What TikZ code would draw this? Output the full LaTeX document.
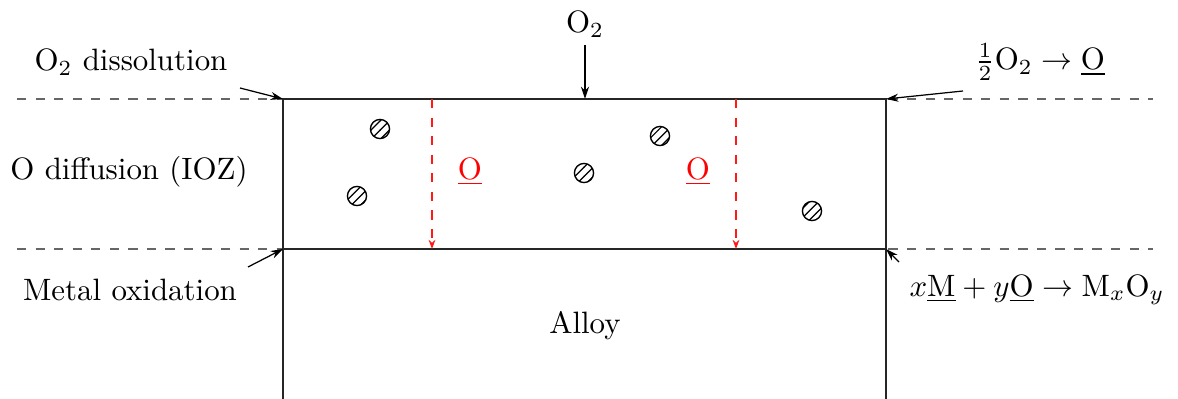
\documentclass[tikz,border=0pt]{standalone}
\usetikzlibrary{patterns,arrows.meta}
\begin{document}
\begin{tikzpicture}[x=0.3236pt,y=-0.3236pt,
  guide/.style={dashed, gray!80!black, line width=0.45pt},
  wall/.style={black!85, line width=0.4pt},
  ptr/.style={-{Stealth[length=4pt,width=2.6pt]}, line width=0.4pt},
  flux/.style={red!90!white, dashed, line width=0.35pt, -{Stealth[length=3pt,width=2.2pt]}},
  particle/.style={circle, draw, line width=0.45pt, minimum size=6.2pt, inner sep=0pt, pattern=north east lines},
  lbl/.style={inner sep=1pt}]
\useasboundingbox (0,0) rectangle (1178,399);

% guide lines
\coordinate (gtl) at (17,99);  \coordinate (gtr) at (1153,99);
\coordinate (gbl) at (17,249); \coordinate (gbr) at (1153,249);
\draw[guide] (gtl) -- (gtr);
\draw[guide] (gbl) -- (gbr);

% box corners
\coordinate (tl) at (283,99);  \coordinate (tr) at (886,99);
\coordinate (ml) at (283,249); \coordinate (mr) at (886,249);
\coordinate (bl) at (283,399); \coordinate (br) at (886,399);
\draw[wall] (bl) -- (tl) -- (tr) -- (br);
\draw[wall] (ml) -- (mr);

% red fluxes
\coordinate (f1t) at (432,99);  \coordinate (f1b) at (432,249);
\coordinate (f2t) at (736,99);  \coordinate (f2b) at (736,249);
\draw[flux] (f1t) -- (f1b);
\draw[flux] (f2t) -- (f2b);
\node[lbl, text=red] (o1) at (470,172) {$\underline{\mathrm{O}}$};
\node[lbl, text=red] (o2) at (698,172) {$\underline{\mathrm{O}}$};

% particles
\node[particle] (p1) at (380,129) {};
\node[particle] (p2) at (357,196) {};
\node[particle] (p3) at (584,173) {};
\node[particle] (p4) at (660,136) {};
\node[particle] (p5) at (812,211) {};

% labels
\node[lbl] (otwo) at (585,24) {O$_2$};
\coordinate (otwostart) at (585,45);
\coordinate (otwoend) at (585,99);
\draw[ptr] (otwostart) -- (otwoend);

\node[lbl] (diss) at (131,62) {O$_2$ dissolution};
\coordinate (dissstart) at (240,88);
\draw[ptr] (dissstart) -- (tl);

\node[lbl] (half) at (1040,62) {$\frac{1}{2}\mathrm{O}_2 \rightarrow \underline{\mathrm{O}}$};
\coordinate (halfstart) at (963,91);
\draw[ptr] (halfstart) -- (tr);

\node[lbl] (diff) at (129,172) {O diffusion (IOZ)};

\node[lbl] (metox) at (130,290) {Metal oxidation};
\coordinate (metoxstart) at (248,267);
\draw[ptr] (metoxstart) -- (ml);

\node[lbl] (react) at (1037,290) {$x\underline{\mathrm{M}} + y\underline{\mathrm{O}} \rightarrow \mathrm{M}_x\mathrm{O}_y$};
\coordinate (reactstart) at (899,262);
\draw[ptr] (reactstart) -- (mr);

\node[lbl] (alloy) at (585,326) {Alloy};
\end{tikzpicture}
\end{document}
